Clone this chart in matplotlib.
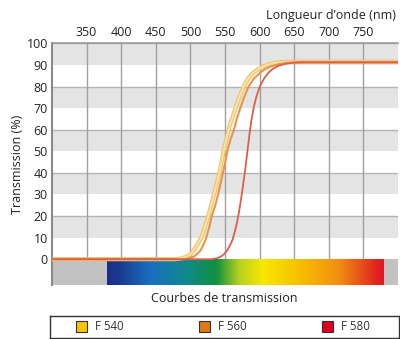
import matplotlib
matplotlib.use("Agg")
import matplotlib.pyplot as plt
from matplotlib.colors import LinearSegmentedColormap
from matplotlib.patches import Rectangle
import numpy as np

plt.rcParams['font.family'] = ['Open Sans', 'DejaVu Sans']

# transmission curves (wavelength nm, transmission %)
wl_540 = [300, 478, 486, 493, 500, 507, 515, 521, 526, 530, 534, 538, 542, 545, 548, 552, 555, 560, 564,
          570, 577, 584, 591, 598, 605, 612, 620, 630, 645, 800]
tr_540 = [0, 0, 0.3, 1, 2.2, 5, 9.5, 15, 20, 25, 30, 35, 40, 45, 50, 55.5, 60, 65, 69,
          74.5, 80, 84, 86.5, 88, 89.3, 90.2, 90.8, 91.3, 91.5, 91.5]

wl_560 = [300, 490, 498, 505, 510, 515, 522, 527, 531, 536, 540, 544, 547, 551, 554, 558, 563, 567, 571,
          577, 584, 592, 601, 609, 617, 627, 640, 655, 800]
tr_560 = [0, 0, 0.4, 1.2, 2.5, 4.2, 9, 14.5, 20, 25, 30, 35.5, 40, 46, 51, 55.5, 60, 65, 69,
          74.5, 80, 83.8, 86.5, 88.3, 89.4, 90.3, 91, 91.3, 91.3]

wl_580 = [300, 530, 538, 544, 549, 553, 557, 561, 564, 567, 570, 573, 576, 579, 582, 585, 588, 592,
          596, 601, 607, 613, 620, 628, 637, 650, 665, 800]
tr_580 = [0, 0, 0.4, 1.2, 2.4, 4, 6.2, 9.2, 12.5, 16.5, 21.5, 27.5, 34, 41, 49, 57, 64, 71,
          76, 80.5, 84, 86.5, 88.4, 89.7, 90.5, 91.1, 91.2, 91.2]

# spectrum strip colour stops
spec_wl = [380, 397, 441, 495, 538, 571, 605, 658, 715, 773, 780]
spec_col = ['#1b2f88', '#1a3a8f', '#1a6ec0', '#108a8a', '#109040', '#b8d020',
            '#f8e800', '#f8c000', '#f09010', '#e02020', '#e01a20']

y_ticks = [0, 10, 20, 30, 40, 50, 60, 70, 80, 90, 100]
x_ticks = [350, 400, 450, 500, 550, 600, 650, 700, 750]

legend_labels = ['F 540', 'F 560', 'F 580']
legend_colors = ['#f7c600', '#e07a12', '#e2001a']

fig = plt.figure(figsize=(4.0, 3.39), dpi=100)
ax = fig.add_axes([0.13, 0.159, 0.865, 0.713])
ax.set_xlim(300, 800)
ax.set_ylim(-12, 100)

# gray bands
for lo in [10, 30, 50, 70, 90]:
    ax.axhspan(lo, lo + 10, color='#e4e4e4', zorder=0, lw=0)
for y in [20, 40, 60, 80, 100]:
    ax.axhline(y, color='#b4b4b4', lw=1.0, zorder=1)
for x in x_ticks:
    ax.axvline(x, color='#a0a0a0', lw=1.0, zorder=1)

# spectrum strip
ax.add_patch(Rectangle((300, -12), 500, 12, color='#c2c2c2', lw=0, zorder=2))
cmap = LinearSegmentedColormap.from_list(
    'spec', list(zip([(w - spec_wl[0]) / (spec_wl[-1] - spec_wl[0]) for w in spec_wl], spec_col)))
grad = np.linspace(0, 1, 400).reshape(1, -1)
ax.imshow(grad, cmap=cmap, aspect='auto', extent=[spec_wl[0], spec_wl[-1], -12, 0], zorder=3)

# curves
ax.plot(wl_540, tr_540, color='#eebf6a', lw=3.0, zorder=5)
ax.plot(wl_540, tr_540, color='#f8e2a0', lw=1.6, zorder=5)
ax.plot(wl_560, tr_560, color='#e8944a', lw=1.5, zorder=6)
ax.plot(wl_580, tr_580, color='#d9604a', lw=1.3, zorder=7)

ax.set_yticks(y_ticks)
ax.set_yticklabels([str(v) for v in y_ticks], fontsize=9, color='#222222')
ax.set_xticks(x_ticks)
ax.xaxis.tick_top()
ax.set_xticklabels([str(v) for v in x_ticks], fontsize=9, color='#222222')
ax.tick_params(length=0, pad=3)
ax.set_ylabel('Transmission (%)', fontsize=9, color='#222222', labelpad=2)

for s in ['right', 'bottom']:
    ax.spines[s].set_visible(False)
ax.spines['left'].set_color('#8a8a8a')
ax.spines['left'].set_linewidth(1.5)
ax.spines['top'].set_color('#9a9a9a')
ax.spines['top'].set_linewidth(1.2)

fig.text(0.99, 0.955, 'Longueur d\u2019onde (nm)', ha='right', va='center', fontsize=9, color='#222222')
fig.text(0.56, 0.12, 'Courbes de transmission', ha='center', va='center', fontsize=9, color='#222222')

# legend box
lax = fig.add_axes([0.125, 0.003, 0.872, 0.066])
lax.set_xlim(0, 350)
lax.set_ylim(0, 22)
lax.set_xticks([])
lax.set_yticks([])
for s in lax.spines.values():
    s.set_color('#333333')
    s.set_linewidth(1.0)
for x0, lab, col in zip([26, 150, 273], legend_labels, legend_colors):
    lax.add_patch(Rectangle((x0, 5.5), 11, 11, facecolor=col, edgecolor='#333333', lw=0.8))
    lax.text(x0 + 19, 11, lab, fontsize=8.3, va='center', ha='left', color='#333333')

fig.savefig('out.png', dpi=100)
